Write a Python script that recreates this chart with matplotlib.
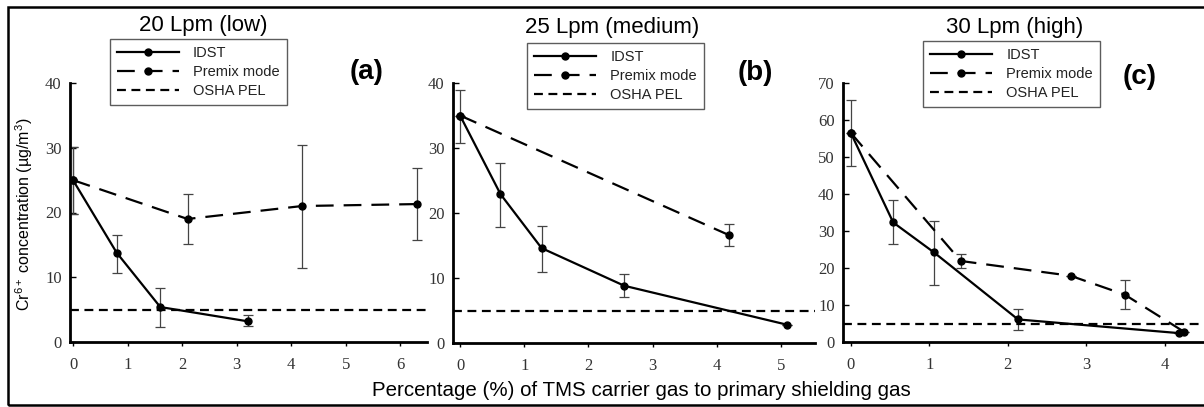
import matplotlib
matplotlib.use("Agg")
import matplotlib.pyplot as plt
from matplotlib.patches import Rectangle
from matplotlib.lines import Line2D

plt.rcParams['font.family'] = ['Liberation Sans', 'DejaVu Sans']
plt.rcParams['mathtext.fontset'] = 'custom'
plt.rcParams['mathtext.rm'] = 'Liberation Sans'
plt.rcParams['mathtext.it'] = 'Liberation Sans:italic'

# ---- data ----
titles = ["20 Lpm (low)", "25 Lpm (medium)", "30 Lpm (high)"]
panel_tags = ["(a)", "(b)", "(c)"]

a_idst_x = [0, 0.8, 1.6, 3.2]
a_idst_y = [25.0, 13.8, 5.4, 3.2]
a_idst_lo = [19.8, 10.7, 2.3, 2.4]
a_idst_hi = [30.1, 16.6, 8.4, 4.1]
a_prem_x = [0, 2.1, 4.2, 6.3]
a_prem_y = [25.0, 19.0, 21.0, 21.3]
a_prem_lo = [19.8, 15.1, 11.5, 15.7]
a_prem_hi = [30.1, 22.9, 30.4, 26.9]

b_idst_x = [0, 0.63, 1.27, 2.56, 5.1]
b_idst_y = [35.0, 22.9, 14.6, 8.8, 2.8]
b_idst_lo = [30.8, 17.9, 11.0, 7.1, 2.8]
b_idst_hi = [39.0, 27.7, 18.0, 10.6, 2.8]
b_prem_x = [0, 4.19]
b_prem_y = [35.0, 16.6]
b_prem_lo = [35.0, 15.0]
b_prem_hi = [35.0, 18.3]

c_idst_x = [0, 0.54, 1.06, 2.13, 4.18]
c_idst_y = [56.5, 32.3, 24.2, 6.1, 2.4]
c_idst_lo = [47.6, 26.4, 15.4, 3.2, 2.4]
c_idst_hi = [65.4, 38.3, 32.6, 8.8, 2.4]
c_prem_x = [0, 1.40, 2.80, 3.49, 4.25]
c_prem_y = [56.5, 21.9, 17.9, 12.8, 2.7]
c_prem_lo = [56.5, 19.9, 17.9, 8.8, 2.7]
c_prem_hi = [56.5, 23.8, 17.9, 16.7, 2.7]

osha_pel = 5

xlims = [(-0.055, 6.49), (-0.11, 5.53), (-0.1, 4.5)]
ylims = [(0, 40), (0, 40), (0, 70)]
xticks = [list(range(0, 7)), list(range(0, 6)), list(range(0, 5))]
yticks = [list(range(0, 41, 10)), list(range(0, 41, 10)), list(range(0, 71, 10))]

panels = [
    (a_idst_x, a_idst_y, a_idst_lo, a_idst_hi, a_prem_x, a_prem_y, a_prem_lo, a_prem_hi),
    (b_idst_x, b_idst_y, b_idst_lo, b_idst_hi, b_prem_x, b_prem_y, b_prem_lo, b_prem_hi),
    (c_idst_x, c_idst_y, c_idst_lo, c_idst_hi, c_prem_x, c_prem_y, c_prem_lo, c_prem_hi),
]

W, H = 1204, 407
fig = plt.figure(figsize=(W / 100, H / 100), dpi=100)

def fx(px):
    return px / W

def fy(py):
    return 1 - py / H

# axes pixel boxes: left, right, top, bottom
boxes = [(70, 427, 83, 342), (453, 815, 83, 343), (843, 1204, 83, 342)]
title_pos = [(203, 25), (612, 27), (1015, 28)]
tag_pos = [(367, 72), (755, 73), (1140, 77)]
legend_boxes = [(110, 39), (527, 43), (923, 41)]

dash_long = (0, (8, 4.5))
dash_short = (0, (4, 2.5))
ms = 5
err_col = '#444444'
for i, (l, r, t, b) in enumerate(boxes):
    ax = fig.add_axes([fx(l), fy(b), fx(r - l), (b - t) / H])
    ix, iy, ilo, ihi, px_, py_, plo, phi = panels[i]
    ierr = [[y - lo for y, lo in zip(iy, ilo)], [hi - y for y, hi in zip(iy, ihi)]]
    perr = [[y - lo for y, lo in zip(py_, plo)], [hi - y for y, hi in zip(py_, phi)]]
    ax.errorbar(ix, iy, yerr=ierr, fmt='none', ecolor=err_col, elinewidth=0.9,
                capsize=3.5, capthick=0.9, zorder=2)
    ax.errorbar(px_, py_, yerr=perr, fmt='none', ecolor=err_col, elinewidth=0.9,
                capsize=3.5, capthick=0.9, zorder=2)
    ax.axhline(osha_pel, color='black', lw=1.6, ls=dash_short, zorder=3)
    ax.plot(px_, py_, color='black', lw=1.6, ls=dash_long, marker='o', ms=ms,
            zorder=4)
    ax.plot(ix, iy, color='black', lw=1.6, ls='-', marker='o', ms=ms, zorder=5)
    ax.set_xlim(*xlims[i])
    ax.set_ylim(*ylims[i])
    ax.set_xticks(xticks[i])
    ax.set_yticks(yticks[i])
    for s in ['top', 'right']:
        ax.spines[s].set_visible(False)
    for s in ['left', 'bottom']:
        ax.spines[s].set_linewidth(2.0)
    ax.tick_params(axis='y', direction='in', length=4, width=1, labelsize=12, pad=6)
    ax.tick_params(axis='x', direction='out', length=3, width=1, labelsize=12, pad=8)
    for lab in ax.get_xticklabels() + ax.get_yticklabels():
        lab.set_fontfamily('Liberation Serif')
        lab.set_color('#333333')
    ax.patch.set_alpha(0)

    # title and panel tag
    fig.text(fx(title_pos[i][0]), fy(title_pos[i][1]), titles[i], ha='center',
             va='center', fontsize=16)
    fig.text(fx(tag_pos[i][0]), fy(tag_pos[i][1]), panel_tags[i], ha='center',
             va='center', fontsize=20, fontweight='bold')

    # legend
    handles = [
        Line2D([], [], color='black', lw=1.6, ls='-', marker='o', ms=ms),
        Line2D([], [], color='black', lw=1.6, ls=dash_long, marker='o', ms=ms),
        Line2D([], [], color='black', lw=1.6, ls=dash_short),
    ]
    lx, ly = legend_boxes[i]
    leg = fig.legend(handles, ['IDST', 'Premix mode', 'OSHA PEL'],
                     loc='upper left', bbox_to_anchor=(fx(lx), fy(ly)),
                     bbox_transform=fig.transFigure, numpoints=1,
                     fontsize=10.5, frameon=True, fancybox=False,
                     edgecolor='#333333', handlelength=4.2, handletextpad=1.0,
                     borderpad=0.5, labelspacing=0.32, borderaxespad=0)
    leg.get_frame().set_linewidth(1.0)
    for txt in leg.get_texts():
        txt.set_color('#222222')

fig.text(fx(641), fy(391), 'Percentage (%) of TMS carrier gas to primary shielding gas',
         ha='center', va='center', fontsize=14.8)
fig.text(fx(24), fy(214), 'Cr$^{6+}$ concentration (µg/m$^{3}$)', rotation=90,
         ha='center', va='center', fontsize=11.5)

# outer border
fig.patches.append(Rectangle((fx(8), fy(405)), fx(1204 - 8 + 5), (405 - 7) / H,
                             transform=fig.transFigure, fill=False,
                             edgecolor='black', lw=1.8, clip_on=False))

fig.savefig('out.png', dpi=100)
